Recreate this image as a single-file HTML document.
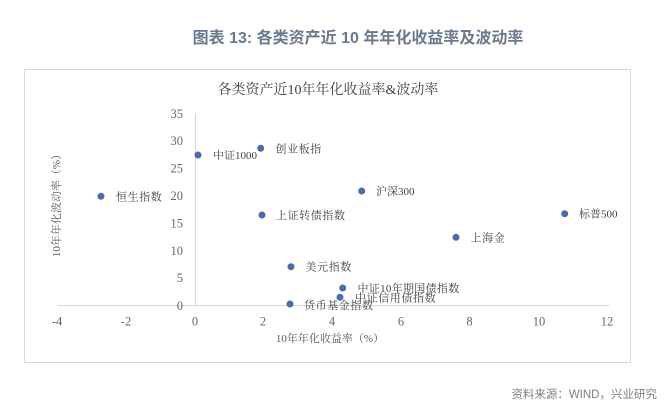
<!DOCTYPE html>
<html>
<head>
<meta charset="utf-8">
<style>
  html,body{margin:0;padding:0;background:#fff;}
  body{width:667px;height:420px;overflow:hidden;position:relative;}
  svg{position:absolute;left:0;top:0;}
</style>
</head>
<body>
<svg width="667" height="420" viewBox="0 0 667 420" xmlns="http://www.w3.org/2000/svg">
  <!-- main title -->
  <text x="358" y="43" text-anchor="middle" font-family="'Liberation Sans','Noto Sans CJK SC',sans-serif" font-size="16" font-weight="bold" fill="#6b7a8f">图表 13: 各类资产近 10 年年化收益率及波动率</text>

  <!-- chart box -->
  <rect x="24.5" y="69.5" width="606" height="293" fill="#fff" stroke="#d9d9d9" stroke-width="1"/>

  <!-- chart title -->
  <text x="328" y="94" text-anchor="middle" font-family="'Liberation Serif','Noto Serif CJK SC',serif" font-size="14" fill="#404040">各类资产近10年年化收益率&amp;波动率</text>

  <!-- axes -->
  <line x1="195.5" y1="113" x2="195.5" y2="306" stroke="#d9d9d9" stroke-width="1.2"/>
  <line x1="57" y1="305.7" x2="609" y2="305.7" stroke="#d9d9d9" stroke-width="1.2"/>

  <!-- y tick labels -->
  <g font-family="'Liberation Serif',serif" font-size="12.5" fill="#666666" text-anchor="end">
    <text x="183" y="118">35</text>
    <text x="183" y="145">30</text>
    <text x="183" y="172.5">25</text>
    <text x="183" y="200">20</text>
    <text x="183" y="227.5">15</text>
    <text x="183" y="255">10</text>
    <text x="183" y="282">5</text>
    <text x="183" y="310">0</text>
  </g>

  <!-- x tick labels -->
  <g font-family="'Liberation Serif',serif" font-size="12.5" fill="#666666" text-anchor="middle">
    <text x="57" y="325.5">-4</text>
    <text x="126" y="325.5">-2</text>
    <text x="195" y="325.5">0</text>
    <text x="263" y="325.5">2</text>
    <text x="332" y="325.5">4</text>
    <text x="401" y="325.5">6</text>
    <text x="469.5" y="325.5">8</text>
    <text x="539" y="325.5">10</text>
    <text x="607" y="325.5">12</text>
  </g>

  <!-- axis titles -->
  <text x="330" y="342" text-anchor="middle" font-family="'Liberation Serif','Noto Serif CJK SC',serif" font-size="11" fill="#595959">10年年化收益率（%）</text>
  <text transform="translate(60,203) rotate(-90)" text-anchor="middle" font-family="'Liberation Serif','Noto Serif CJK SC',serif" font-size="11" fill="#595959">10年年化波动率（%）</text>

  <!-- points -->
  <g fill="#4a6ca8">
    <circle cx="101" cy="196.3" r="3.5"/>
    <circle cx="198" cy="155" r="3.5"/>
    <circle cx="260.7" cy="148.3" r="3.5"/>
    <circle cx="262" cy="215" r="3.5"/>
    <circle cx="291" cy="266.7" r="3.5"/>
    <circle cx="290" cy="304" r="3.5"/>
    <circle cx="340" cy="297.3" r="3.5"/>
    <circle cx="342.7" cy="288" r="3.5"/>
    <circle cx="361.7" cy="191" r="3.5"/>
    <circle cx="564.7" cy="213.7" r="3.5"/>
    <circle cx="456" cy="237.3" r="3.5"/>
  </g>

  <!-- point labels -->
  <g font-family="'Liberation Serif','Noto Serif CJK SC',serif" font-size="11" fill="#404040" letter-spacing="0.6">
    <text x="116" y="200.3">恒生指数</text>
    <text x="213" y="159" letter-spacing="0">中证1000</text>
    <text x="275.5" y="152.3">创业板指</text>
    <text x="276" y="219">上证转债指数</text>
    <text x="305.5" y="270.7">美元指数</text>
    <text x="304" y="309">货币基金指数</text>
    <text x="355" y="301.5">中证信用债指数</text>
    <text x="357.5" y="292" letter-spacing="0.3">中证10年期国债指数</text>
    <text x="376" y="195" letter-spacing="0">沪深300</text>
    <text x="579" y="217.7" letter-spacing="0">标普500</text>
    <text x="470.5" y="241.3">上海金</text>
  </g>

  <!-- source -->
  <text x="657" y="398" text-anchor="end" font-family="'Liberation Sans','Noto Sans CJK SC',sans-serif" font-size="11.5" fill="#7f7f7f">资料来源：WIND，兴业研究</text>
</svg>
</body>
</html>
